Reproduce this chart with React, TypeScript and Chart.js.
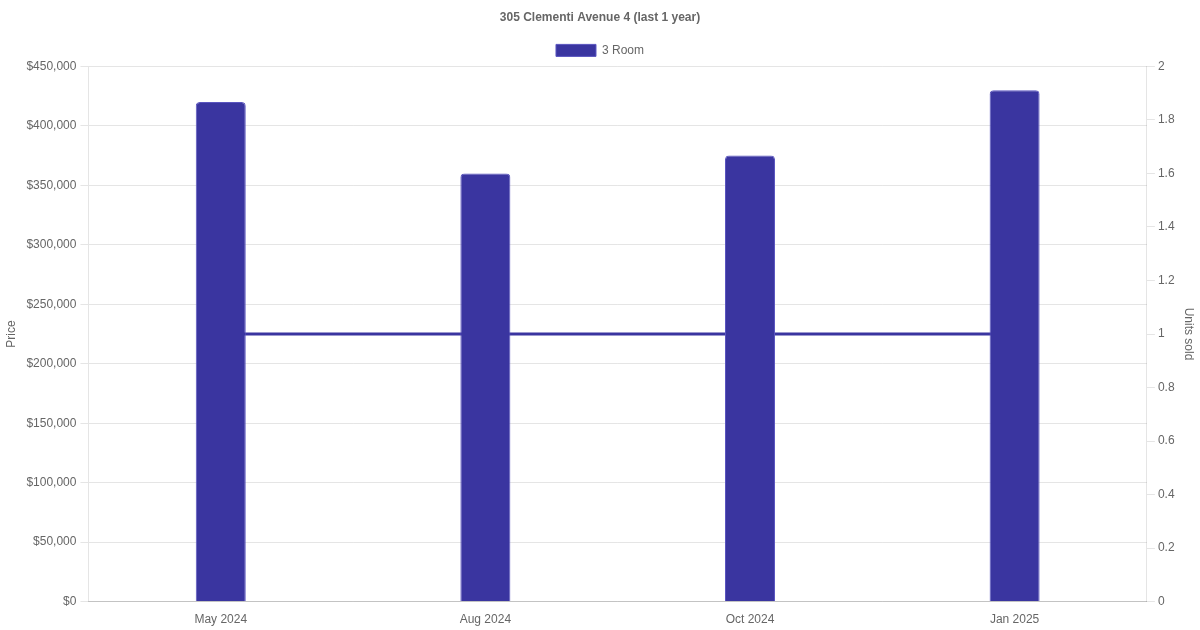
import React, { useEffect, useRef } from 'react';
import { Chart, registerables } from 'chart.js';

Chart.register(...registerables);

const MONTHS = ['May 2024', 'Aug 2024', 'Oct 2024', 'Jan 2025'];
const PRICES = [420000, 360000, 375000, 430000];
const UNITS_SOLD = [1, 1, 1, 1];

const BAR_COLOR = '#3a35a0';

const App: React.FC = () => {
  const canvasRef = useRef<HTMLCanvasElement>(null);
  const chartRef = useRef<Chart | null>(null);

  useEffect(() => {
    document.body.style.margin = '0';
    if (!canvasRef.current) return;
    if (chartRef.current) chartRef.current.destroy();

    const textColor = '#666';
    const gridColor = 'rgba(0,0,0,0.1)';
    Chart.defaults.font.family = "'Liberation Sans', Arial, sans-serif";

    chartRef.current = new Chart(canvasRef.current, {
      type: 'bar',
      data: {
        labels: MONTHS,
        datasets: [
          {
            label: '3 Room',
            data: PRICES,
            backgroundColor: BAR_COLOR,
            borderColor: '#5a55c0',
            borderWidth: 1,
            borderRadius: 4,
            borderSkipped: 'bottom',
            maxBarThickness: 50,
            yAxisID: 'y',
            order: 1,
          },
          {
            label: 'Units sold',
            data: UNITS_SOLD,
            type: 'line',
            borderColor: BAR_COLOR,
            backgroundColor: BAR_COLOR,
            borderWidth: 3,
            pointRadius: 0,
            fill: false,
            yAxisID: 'y1',
            order: 2,
          },
        ],
      },
      options: {
        responsive: true,
        maintainAspectRatio: false,
        animation: false,
        plugins: {
          title: {
            display: true,
            text: '305 Clementi Avenue 4 (last 1 year)',
            color: textColor,
            font: { size: 12, weight: 'bold' },
          },
          legend: {
            position: 'top',
            labels: {
              color: textColor,
              font: { size: 12 },
              filter: (item) => item.text === '3 Room',
            },
          },
        },
        scales: {
          x: {
            ticks: { color: textColor, font: { size: 12 } },
            grid: { display: false },
            border: { display: true, color: 'rgba(0,0,0,0.15)' },
          },
          y: {
            type: 'linear',
            position: 'left',
            min: 0,
            max: 450000,
            ticks: {
              stepSize: 50000,
              padding: 4,
              color: textColor,
              font: { size: 12 },
              callback: (v) => '$' + Number(v).toLocaleString('en-US'),
            },
            grid: { color: gridColor },
            title: { display: true, text: 'Price', color: textColor, font: { size: 12 } },
          },
          y1: {
            type: 'linear',
            position: 'right',
            min: 0,
            max: 2,
            ticks: {
              stepSize: 0.2,
              color: textColor,
              font: { size: 12 },
              callback: (v) => String(Math.round(Number(v) * 10) / 10),
            },
            grid: { drawOnChartArea: false, color: gridColor },
            title: { display: true, text: 'Units sold', color: textColor, font: { size: 12 } },
          },
        },
      },
    });

    return () => {
      chartRef.current?.destroy();
      chartRef.current = null;
    };
  }, []);

  return (
    <div style={{ width: 1200, height: 630, position: 'relative' }}>
      <canvas ref={canvasRef} />
    </div>
  );
};

export default App;
